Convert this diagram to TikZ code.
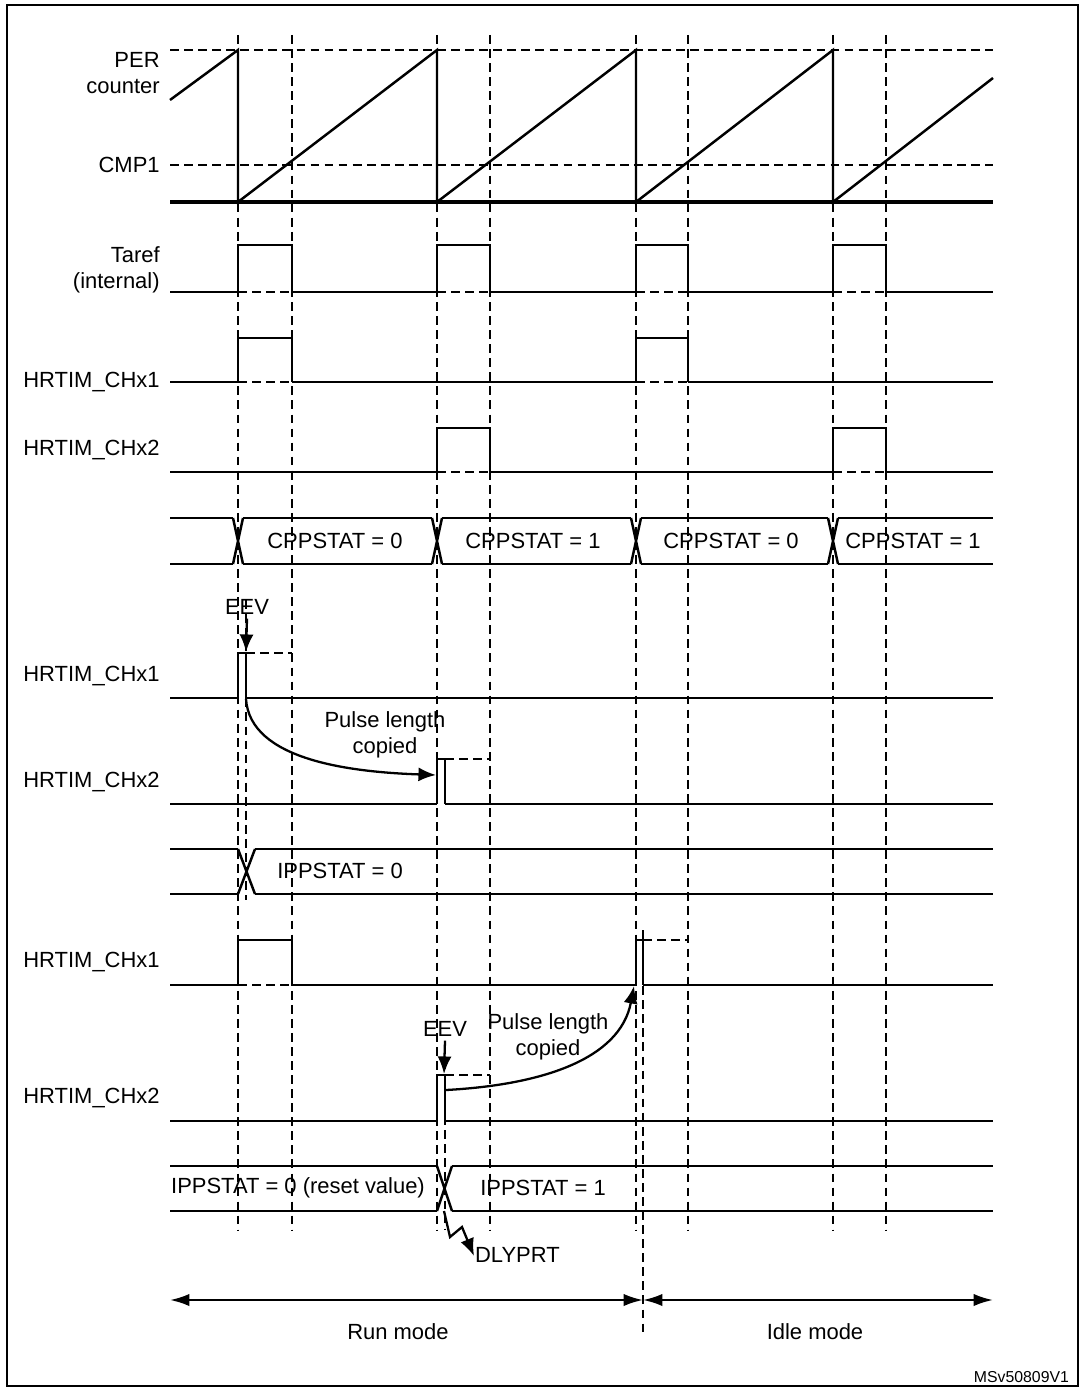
\documentclass[tikz,border=0pt]{standalone}
\usepackage{fontspec}
\setmainfont{Liberation Sans}
\usetikzlibrary{arrows.meta}

\tikzset{
  sig/.style={line width=1.4pt},
  grid/.style={dash pattern=on 5pt off 3pt, line width=0.6pt},
  lbl/.style={anchor=east, align=right, font=\fontsize{12.5}{14.5}\selectfont, inner sep=0pt},
  txt/.style={font=\fontsize{12.5}{14.5}\selectfont, inner sep=1pt, align=center},
  arr/.style={-{Latex[length=10pt,width=8pt]}, line width=1.3pt},
}
% pulse: low y, high y, rise x, fall x
\newcommand{\pulse}[4]{\draw[sig] (#3,#1) -- (#3,#2) -- (#4,#2) -- (#4,#1);
  \draw[grid] (#3,#1) -- (#4,#1);}
% bus crossing: top y, bottom y, x, half width
\newcommand{\busx}[4]{\draw[sig] (#3-#4,#1) -- (#3+#4,#2) (#3-#4,#2) -- (#3+#4,#1);}

\begin{document}
\begin{tikzpicture}[x=0.02cm, y=-0.02cm]
            \useasboundingbox (0, 0) rectangle (1085, 1391);
            \draw[line width=1.5pt] (7, 5) rectangle (1078, 1386);
            % vertical guides
            \foreach \x in {238, 292, 437, 490, 636, 688, 833, 886} {
                    \draw[grid] (\x, 35) -- (\x, 1230);
            }
            \draw[grid] (246, 600) -- (246, 900);
            \draw[grid] (445, 1060) -- (445, 1230);
            \draw[grid] (643, 930) -- (643, 1335);
            % PER counter
            \draw[grid] (170, 50) -- (993, 50);
            \draw[grid] (170, 165) -- (993, 165);
            \draw[line width=1.8pt] (170, 202) -- (993, 202);
            \draw[sig] (170, 100) -- (238, 50) -- (238, 202) -- (437, 50) -- (437, 202)
                    -- (636, 50) -- (636, 202) -- (833, 50) -- (833, 202) -- (993, 78);
            \node[lbl] (per) at (160, 73) {PER\\counter};
            \node[lbl] (cmp) at (160, 165) {CMP1};
            % Taref
            \draw[sig] (170, 292) -- (238, 292) (292, 292) -- (437, 292) (490, 292) -- (636, 292)
                    (688, 292) -- (833, 292) (886, 292) -- (993, 292);
            \foreach \a/\b in {238/292, 437/490, 636/688, 833/886} {
                    \pulse{292}{245}{\a}{\b}
            }
            \node[lbl] (taref) at (160, 270) {Taref\\(internal)};
            % CHx1 / CHx2
            \draw[sig] (170, 382) -- (238, 382) (292, 382) -- (636, 382) (688, 382) -- (993, 382);
            \pulse{382}{338}{238}{292}
            \pulse{382}{338}{636}{688}
            \node[lbl] (cha) at (160, 382) {HRTIM\_CHx1};
            \draw[sig] (170, 472) -- (437, 472) (490, 472) -- (833, 472) (886, 472) -- (993, 472);
            \pulse{472}{428}{437}{490}
            \pulse{472}{428}{833}{886}
            \node[lbl] (chb) at (160, 450) {HRTIM\_CHx2};
            % CPPSTAT bus
            \draw[sig] (170, 518) -- (233, 518) (243, 518) -- (432, 518) (442, 518) -- (631, 518)
                    (641, 518) -- (828, 518) (838, 518) -- (993, 518);
            \draw[sig] (170, 564) -- (233, 564) (243, 564) -- (432, 564) (442, 564) -- (631, 564)
                    (641, 564) -- (828, 564) (838, 564) -- (993, 564);
            \foreach \x in {238, 437, 636, 833} {
                    \busx{518}{564}{\x}{5}
            }
            \node[txt] (cp0) at (335, 541) {CPPSTAT = 0};
            \node[txt] (cp1) at (533, 541) {CPPSTAT = 1};
            \node[txt] (cp2) at (731, 541) {CPPSTAT = 0};
            \node[txt] (cp3) at (913, 541) {CPPSTAT = 1};
            % second case
            \draw[sig] (170, 698) -- (238, 698) (246, 698) -- (993, 698);
            \draw[sig] (238, 698) -- (238, 653) -- (246, 653) -- (246, 698);
            \draw[grid] (246, 653) -- (292, 653);
            \node[txt] (eev1) at (247, 607) {EEV};
            \coordinate (eev1t) at (246, 652);
            \draw[arr] (eev1.south) ++(0,2) -- (eev1t);
            \node[lbl] (cha2) at (160, 676) {HRTIM\_CHx1};
            \draw[sig] (170, 804) -- (437, 804) (445, 804) -- (993, 804);
            \draw[sig] (437, 804) -- (437, 759) -- (445, 759) -- (445, 804);
            \draw[grid] (445, 759) -- (490, 759);
            \node[lbl] (chb2) at (160, 782) {HRTIM\_CHx2};
            \coordinate (cpa) at (246, 699);
            \coordinate (cpb) at (436, 775);
            \draw[arr] (cpa) .. controls (250, 760) and (350, 772) .. (cpb);
            \node[txt] (pl1) at (385, 735) {Pulse length\\copied};
            % IPPSTAT = 0
            \draw[sig] (170, 849) -- (238, 849) (255, 849) -- (993, 849);
            \draw[sig] (170, 894) -- (238, 894) (255, 894) -- (993, 894);
            \draw[sig] (238, 849) -- (255, 894) (238, 894) -- (255, 849);
            \node[txt] (ip0) at (340, 871) {IPPSTAT = 0};
            % third case
            \draw[sig] (170, 985) -- (238, 985) (292, 985) -- (636, 985) (643, 985) -- (993, 985);
            \pulse{985}{940}{238}{292}
            \draw[sig] (636, 985) -- (636, 940) -- (643, 940) -- (643, 985);
            \draw[grid] (643, 940) -- (688, 940);
            \node[lbl] (cha3) at (160, 962) {HRTIM\_CHx1};
            \draw[sig] (170, 1121) -- (437, 1121) (445, 1121) -- (993, 1121);
            \draw[sig] (437, 1121) -- (437, 1075) -- (445, 1075) -- (445, 1121);
            \draw[grid] (445, 1075) -- (490, 1075);
            \node[lbl] (chb3) at (160, 1098) {HRTIM\_CHx2};
            \node[txt] (eev2) at (445, 1029) {EEV};
            \coordinate (eev2t) at (444, 1074);
            \draw[arr] (eev2.south) ++(0,2) -- (eev2t);
            \coordinate (cpc) at (446, 1090);
            \coordinate (cpd) at (634, 986);
            \draw[arr] (cpc) .. controls (540, 1085) and (620, 1060) .. (cpd);
            \node[txt] (pl2) at (548, 1037) {Pulse length\\copied};
            % IPPSTAT reset
            \draw[sig] (170, 1166) -- (437, 1166) (452, 1166) -- (993, 1166);
            \draw[sig] (170, 1211) -- (437, 1211) (452, 1211) -- (993, 1211);
            \draw[sig] (437, 1166) -- (452, 1211) (437, 1211) -- (452, 1166);
            \node[txt] (ipr) at (298, 1188) {IPPSTAT = 0 (reset value)};
            \node[txt] (ip1) at (543, 1188) {IPPSTAT = 1};
            \coordinate (dlys) at (444, 1211);
            \node[txt, anchor=west] (dly) at (473, 1255) {DLYPRT};
            \draw[arr] (dlys) -- (450, 1237) -- (462, 1227) -- (474, 1256);
            % modes
            \coordinate (m0) at (170, 1300);
            \coordinate (m1) at (643, 1300);
            \coordinate (m2) at (993, 1300);
            \draw[{Latex[length=11pt,width=7pt]}-{Latex[length=11pt,width=7pt]}, line width=1.3pt] (m0) -- (m1);
            \draw[{Latex[length=11pt,width=7pt]}-{Latex[length=11pt,width=7pt]}, line width=1.3pt] (m1) -- (m2);
            \node[txt] (run) at (398, 1332) {Run mode};
            \node[txt] (idle) at (815, 1332) {Idle mode};
            \node[txt, font=\fontsize{9}{10}\selectfont, anchor=east] (ref) at (1071, 1377) {MSv50809V1};
    \end{tikzpicture}
\end{document}
